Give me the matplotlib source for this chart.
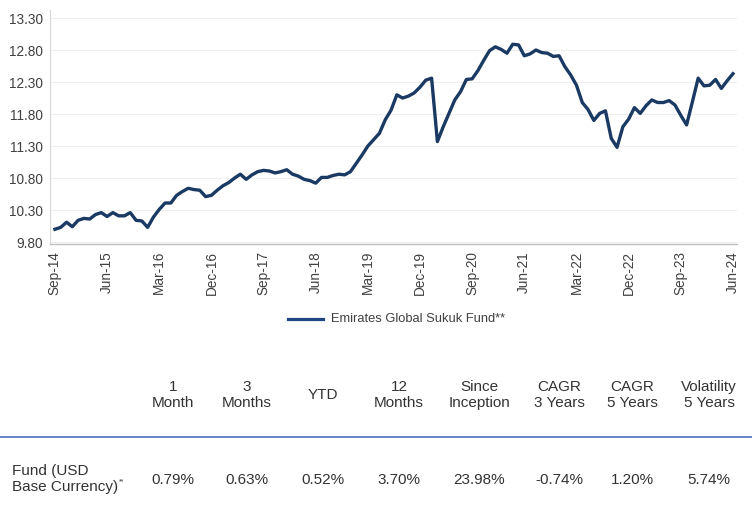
import numpy as np
import matplotlib
matplotlib.use("Agg")
import matplotlib.pyplot as plt

plt.rcParams['font.family'] = ['Liberation Sans', 'DejaVu Sans']

# monthly NAV, Sep-14 .. Jun-24
nav = [10.00, 10.03, 10.11, 10.04, 10.14, 10.17, 10.16, 10.23, 10.26, 10.20,
       10.26, 10.21, 10.21, 10.26, 10.14, 10.13, 10.03, 10.19, 10.31, 10.41,
       10.41, 10.53, 10.59, 10.64, 10.62, 10.61, 10.51, 10.53, 10.61, 10.68,
       10.73, 10.80, 10.86, 10.78, 10.85, 10.90, 10.92, 10.91, 10.88, 10.90,
       10.93, 10.86, 10.83, 10.78, 10.76, 10.72, 10.81, 10.81, 10.84, 10.86,
       10.85, 10.90, 11.03, 11.16, 11.30, 11.40, 11.50, 11.71, 11.86, 12.10,
       12.05, 12.08, 12.13, 12.22, 12.33, 12.36, 11.37, 11.60, 11.81, 12.02,
       12.15, 12.34, 12.35, 12.48, 12.64, 12.79, 12.85, 12.81, 12.75, 12.89,
       12.88, 12.71, 12.74, 12.80, 12.76, 12.75, 12.70, 12.71, 12.54, 12.41,
       12.25, 11.98, 11.87, 11.70, 11.81, 11.85, 11.42, 11.28, 11.60, 11.72,
       11.90, 11.81, 11.93, 12.02, 11.98, 11.98, 12.01, 11.94, 11.78, 11.63,
       11.99, 12.36, 12.24, 12.25, 12.34, 12.20, 12.32, 12.43]

tick_labels = ["Sep-14", "Jun-15", "Mar-16", "Dec-16", "Sep-17", "Jun-18", "Mar-19",
               "Dec-19", "Sep-20", "Jun-21", "Mar-22", "Dec-22", "Sep-23", "Jun-24"]
y_ticks = [9.80, 10.30, 10.80, 11.30, 11.80, 12.30, 12.80, 13.30]

series_name = "Emirates Global Sukuk Fund**"

col_headers = ["1\nMonth", "3\nMonths", "YTD", "12\nMonths", "Since\nInception",
               "CAGR\n3 Years", "CAGR\n5 Years", "Volatility\n5 Years"]
row_label = "Fund (USD\nBase Currency)"
row_values = ["0.79%", "0.63%", "0.52%", "3.70%", "23.98%", "-0.74%", "1.20%", "5.74%"]

W, H = 752, 513
fig = plt.figure(figsize=(W / 100, H / 100), dpi=100)

# chart area in pixels: x 50..737, y 10..244
ax = fig.add_axes([50 / W, 1 - 244 / H, 687 / W, 234 / H])
x = np.arange(len(nav))
line_col = "#1a3a63"
ax.plot(x, nav, color=line_col, lw=2.4, solid_joinstyle="round")

ax.set_xlim(-0.85, len(nav) - 1 + 0.7)
ax.set_ylim(9.77, 13.425)
ax.set_yticks(y_ticks)
ax.set_yticklabels([f"{v:.2f}" for v in y_ticks])
ax.set_xticks(np.arange(0, len(nav), 9))
ax.set_xticklabels(tick_labels, rotation=90)
ax.tick_params(axis="both", length=0, labelsize=9.8, colors="#404040")
ax.tick_params(axis="x", pad=5)
ax.tick_params(axis="y", pad=5)
ax.grid(axis="y", color="#efefef", lw=0.8)
ax.set_axisbelow(True)
for s in ["top", "right"]:
    ax.spines[s].set_visible(False)
ax.spines["left"].set_color("#d9d9d9")
ax.spines["bottom"].set_color("#bfbfbf")
ax.spines["left"].set_linewidth(0.8)
ax.spines["bottom"].set_linewidth(1.0)

# legend
fig.lines.append(plt.Line2D([288 / W, 323 / W], [1 - 319 / H] * 2, color="#1f4682",
                            lw=2.3, transform=fig.transFigure))
fig.text(331 / W, 1 - 319 / H, series_name, fontsize=9.3, color="#404040",
         va="center", ha="left")

# table
col_x = [173, 247, 323, 399, 479, 559, 632, 709]
for cx, hdr in zip(col_x, col_headers):
    fig.text(cx / W, 1 - 395 / H, hdr, fontsize=11, color="#333333",
             ha="center", va="center", linespacing=1.2)

fig.lines.append(plt.Line2D([0, 1], [1 - 437 / H] * 2, color="#4f6fbf", lw=1.2,
                            transform=fig.transFigure))

fig.text(12 / W, 1 - 479 / H, row_label, fontsize=11, color="#333333",
         ha="left", va="center", linespacing=1.2)
fig.text(119 / W, 1 - 482 / H, "**", fontsize=5, color="#333333", ha="left", va="center")
for cx, val in zip(col_x, row_values):
    fig.text(cx / W, 1 - 480 / H, val, fontsize=11, color="#333333",
             ha="center", va="center")

fig.savefig("out.png", dpi=100)
